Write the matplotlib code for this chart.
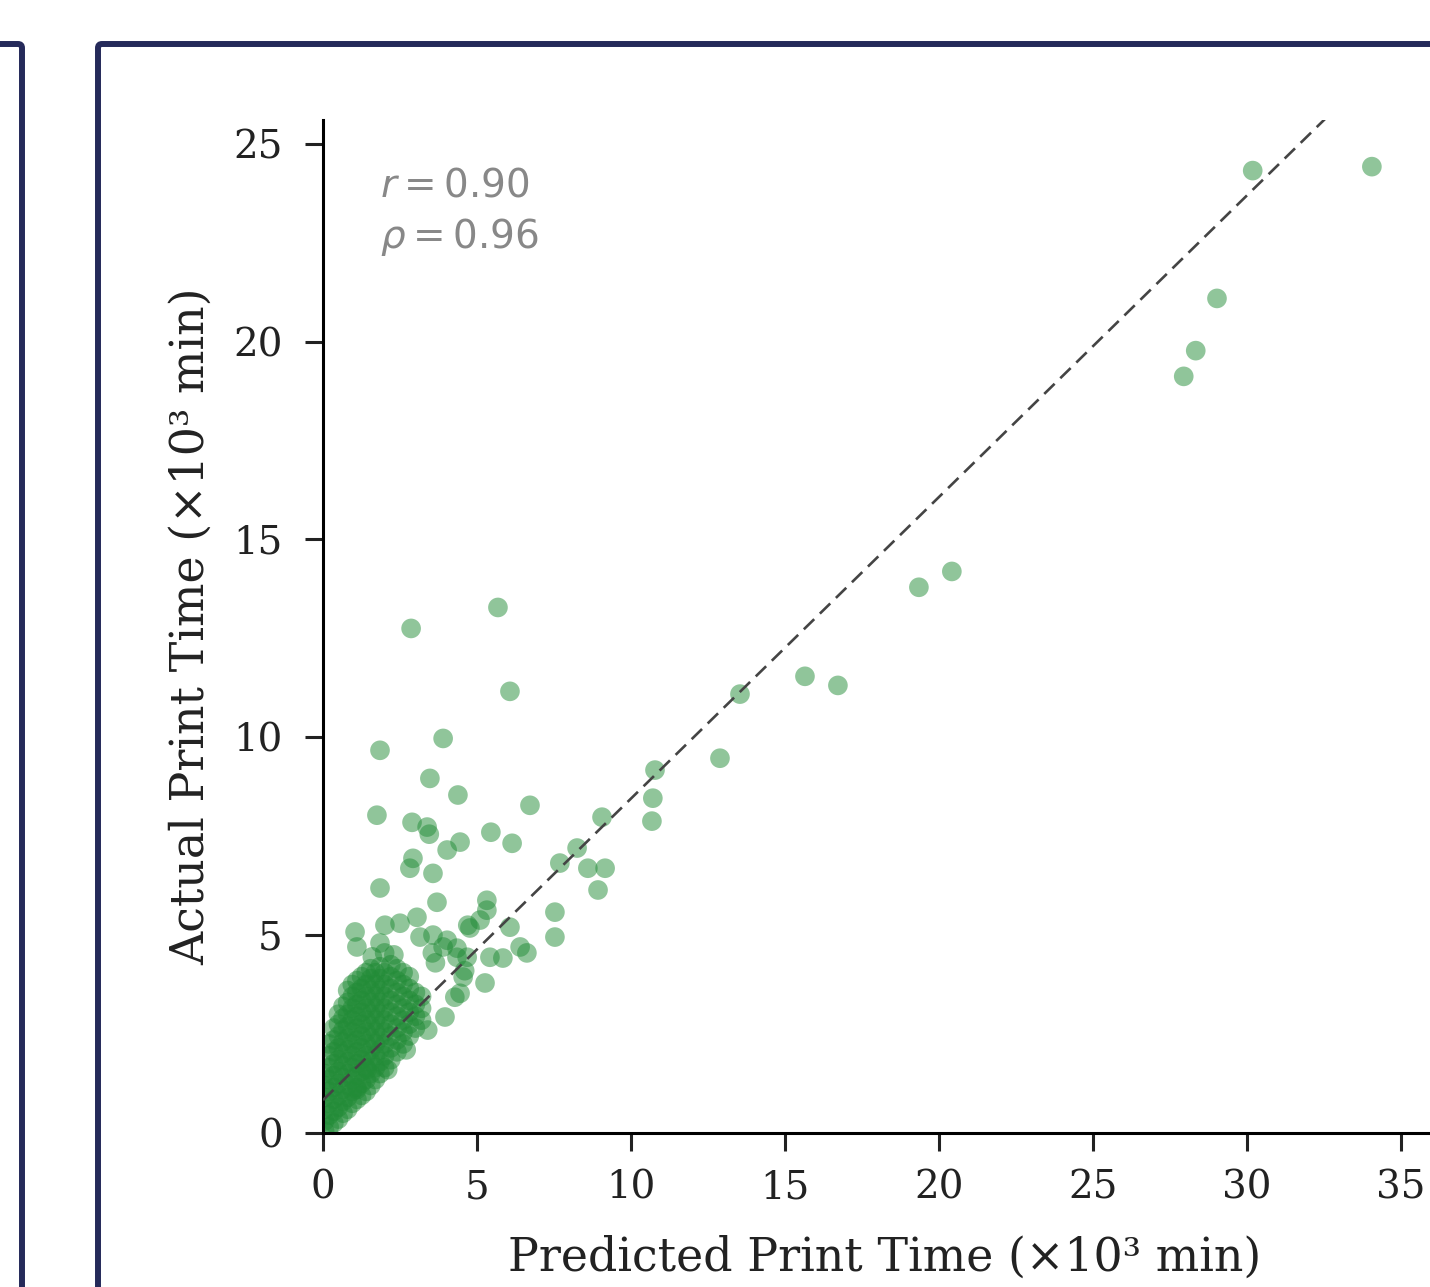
import matplotlib.pyplot as plt
from matplotlib.patches import FancyBboxPatch

# predicted vs actual print time, x10^3 min
# sparse points
pred_sparse = [34.06, 30.19, 29.03, 28.34, 27.95, 20.42, 19.35, 15.65, 16.72, 13.54,
               12.89, 10.78, 10.71, 10.68, 9.06, 9.16, 8.60, 8.93, 8.25, 7.69,
               7.53, 7.53, 6.72, 5.68, 2.86, 6.07, 1.85, 3.90, 1.75, 3.47,
               4.38, 2.89, 3.38, 3.45, 4.45, 4.03, 5.45, 6.14, 2.92, 2.82,
               3.57, 1.85, 3.70, 3.05, 2.50, 2.01, 1.04, 1.10, 1.85, 3.15,
               3.57, 4.03, 4.35, 4.68, 5.32, 5.32, 5.10, 4.77, 6.07, 6.40,
               5.42, 5.84, 6.62, 5.26, 4.70]
act_sparse = [24.42, 24.32, 21.09, 19.77, 19.12, 14.19, 13.79, 11.54, 11.31, 11.09,
              9.47, 9.17, 8.46, 7.88, 7.98, 6.69, 6.69, 6.14, 7.20, 6.82,
              5.58, 4.95, 8.28, 13.28, 12.75, 11.16, 9.67, 9.97, 8.03, 8.96,
              8.54, 7.85, 7.73, 7.55, 7.35, 7.15, 7.60, 7.32, 6.94, 6.69,
              6.56, 6.19, 5.83, 5.45, 5.30, 5.25, 5.08, 4.70, 4.80, 4.95,
              5.00, 4.87, 4.67, 4.44, 5.88, 5.63, 5.38, 5.18, 5.20, 4.70,
              4.44, 4.42, 4.55, 3.79, 5.25]

# lighter points around the dense cluster
pred_edge = [3.65, 3.96, 4.28, 4.60, 4.45, 4.55, 3.40, 2.70, 3.90, 4.35,
             1.43, 1.10, 2.30, 2.00, 1.60, 3.55, 2.10]
act_edge = [4.30, 2.93, 3.43, 4.10, 3.53, 3.94, 2.60, 2.10, 4.70, 4.44,
            1.60, 1.10, 4.50, 4.55, 4.45, 4.55, 1.60]

# dense cluster near the origin
pred_dense = [0.05] * 6 + [0.20] * 8 + [0.35] * 9 + [0.50] * 10 + [0.65] * 10 \
    + [0.80] * 11 + [0.95] * 11 + [1.10] * 11 + [1.25] * 11 + [1.40] * 11 \
    + [1.55] * 11 + [1.70] * 10 + [1.85] * 10 + [2.00] * 9 + [2.20] * 9 \
    + [2.40] * 8 + [2.60] * 7 + [2.80] * 6 + [3.00] * 4 + [3.20] * 3
act_dense = [0.05, 0.30, 0.60, 0.90, 1.20, 1.50,
             0.15, 0.45, 0.75, 1.05, 1.35, 1.65, 1.95, 2.25,
             0.25, 0.55, 0.85, 1.15, 1.45, 1.75, 2.05, 2.35, 2.65,
             0.35, 0.65, 0.95, 1.25, 1.55, 1.85, 2.15, 2.45, 2.75, 3.00,
             0.50, 0.80, 1.10, 1.40, 1.70, 2.00, 2.30, 2.60, 2.90, 3.20,
             0.60, 0.90, 1.20, 1.50, 1.80, 2.10, 2.40, 2.70, 3.00, 3.30, 3.60,
             0.75, 1.05, 1.35, 1.65, 1.95, 2.25, 2.55, 2.85, 3.15, 3.45, 3.75,
             0.85, 1.15, 1.45, 1.75, 2.05, 2.35, 2.65, 2.95, 3.25, 3.55, 3.85,
             0.95, 1.25, 1.55, 1.85, 2.15, 2.45, 2.75, 3.05, 3.35, 3.65, 3.95,
             1.05, 1.35, 1.65, 1.95, 2.25, 2.55, 2.85, 3.15, 3.45, 3.75, 4.05,
             1.20, 1.50, 1.80, 2.10, 2.40, 2.70, 3.00, 3.30, 3.60, 3.90, 4.15,
             1.35, 1.65, 1.95, 2.25, 2.55, 2.85, 3.15, 3.45, 3.75, 4.05,
             1.50, 1.80, 2.10, 2.40, 2.70, 3.00, 3.30, 3.60, 3.90, 4.20,
             1.65, 1.95, 2.25, 2.55, 2.85, 3.15, 3.45, 3.75, 4.05,
             1.85, 2.15, 2.45, 2.75, 3.05, 3.35, 3.65, 3.95, 4.25,
             2.05, 2.35, 2.65, 2.95, 3.25, 3.55, 3.85, 4.15,
             2.25, 2.55, 2.85, 3.15, 3.45, 3.75, 4.05,
             2.45, 2.75, 3.05, 3.35, 3.65, 3.95,
             2.65, 2.95, 3.25, 3.55,
             2.85, 3.15, 3.45]

# fitted line endpoints (x10^3 min)
fit_x = [0.0, 33.0]
fit_y = [0.83, 0.83 + 0.762 * 33.0]

x_ticks = [0, 5, 10, 15, 20, 25, 30, 35]
y_ticks = [0, 5, 10, 15, 20, 25]

pred = pred_sparse + pred_edge + pred_dense
act = act_sparse + act_edge + act_dense

plt.rcParams['font.family'] = 'DejaVu Serif'

fig = plt.figure(figsize=(14.3, 12.87), dpi=100)

# navy panel frames (pixel coords)
navy = '#252a5a'
for (x0, w) in [(-60, 82), (98, 1500)]:
    fr = FancyBboxPatch((x0, -80), w, 1243 + 80, boxstyle='round,pad=0,rounding_size=4',
                        transform=None, fill=False, edgecolor=navy, linewidth=4.3)
    fig.add_artist(fr)

ax = fig.add_axes([0.2259, 0.1197, 0.786, 0.7871])
ax.scatter(pred, act, s=200, color='#228C37', alpha=0.5, edgecolors='none', zorder=2)
ax.plot(fit_x, fit_y, linestyle=(0, (5.5, 3)), color='#444444', linewidth=1.9, zorder=3)

ax.set_xlim(0, 36.5)
ax.set_ylim(0, 25.6)
ax.set_xticks(x_ticks)
ax.set_yticks(y_ticks)
ax.spines['top'].set_visible(False)
ax.spines['right'].set_visible(False)
for s in ['left', 'bottom']:
    ax.spines[s].set_linewidth(2.2)
ax.tick_params(axis='both', direction='out', length=13, width=2.2, labelsize=28,
               colors='#222222')
ax.tick_params(axis='x', pad=13)
ax.tick_params(axis='y', pad=16)

ax.set_xlabel('Predicted Print Time (×10³ min)', fontsize=33, color='#222222', labelpad=21)
ax.set_ylabel('Actual Print Time (×10³ min)', fontsize=33, color='#222222', labelpad=14)

ax.text(0.051, 0.935, r'$r = $0.90', transform=ax.transAxes, fontsize=28,
        family='DejaVu Sans', color='#888888', va='center', ha='left')
ax.text(0.051, 0.884, r'$\rho = $0.96', transform=ax.transAxes, fontsize=28,
        family='DejaVu Sans', color='#888888', va='center', ha='left')

fig.savefig('out.png', dpi=100)
